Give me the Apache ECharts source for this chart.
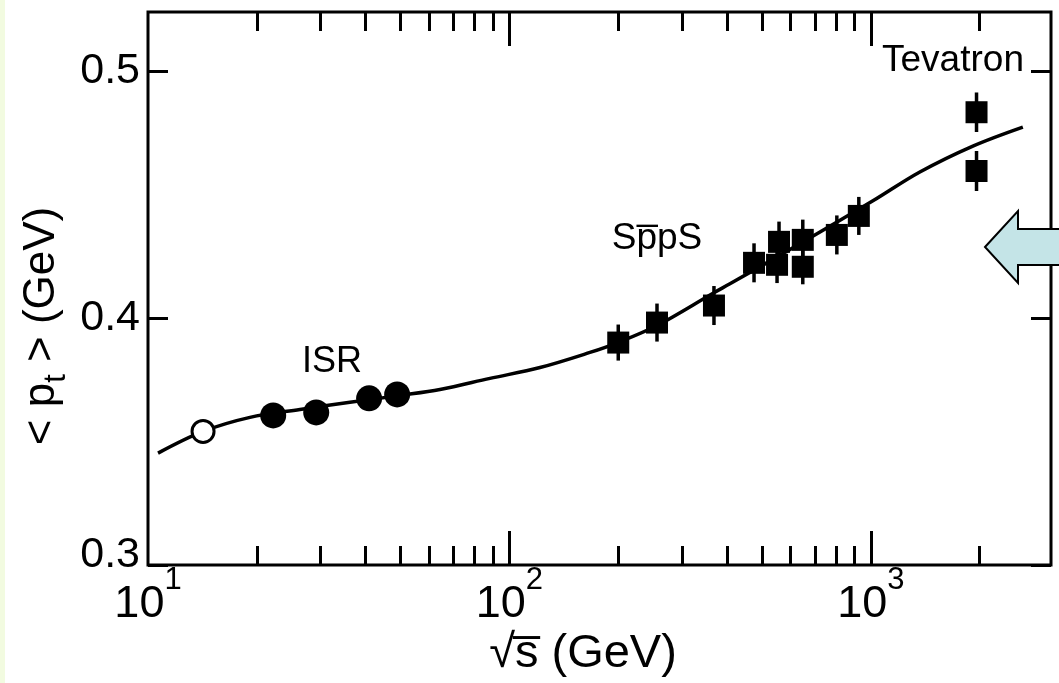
<!DOCTYPE html>
<html><head><meta charset="utf-8">
<script src="https://cdn.jsdelivr.net/npm/echarts@6/dist/echarts.min.js"></script>
<style>html,body{margin:0;padding:0;background:#ffffff;} #c{width:1059px;height:683px;}</style>
</head><body><div id="c"></div>
<script>
// ---- data ----
const xLabelValues = [10, 100, 1000];
const xMajorTicks = [100, 1000];
const xMinorTicks = [20, 30, 40, 50, 60, 70, 80, 90, 200, 300, 400, 500, 600, 700, 800, 900, 2000];
const yTicks = [0.3, 0.4, 0.5];

// open circle (lowest energy)
const openX = [14.2];
const openY = [0.3541];
// ISR (filled circles)
const isrX = [22.2, 29.2, 40.9, 48.9];
const isrY = [0.3606, 0.3618, 0.3675, 0.3691];
// SppS + Tevatron (filled squares with error bars)
const sqX = [200, 256, 368, 475, 557, 550, 648, 648, 805, 926, 1960, 1960];
const sqY = [0.3901, 0.3982, 0.4051, 0.4224, 0.4309, 0.4216, 0.4317, 0.4208, 0.4337, 0.4414, 0.4834, 0.4596];
const sqErr = [0.0073, 0.0077, 0.0079, 0.0079, 0.0082, 0.0074, 0.0082, 0.0071, 0.0079, 0.0077, 0.0080, 0.0081];
// fitted curve
const curveX = [10.66, 14.20, 19.15, 26.33, 36.21, 49.79, 64.24, 88.33, 121.5, 167.0, 199.6, 255.9, 367.9, 407.4, 636.2, 1013, 1366, 1915, 2633];
const curveY = [0.3453, 0.3541, 0.3598, 0.3630, 0.3659, 0.3687, 0.3711, 0.3756, 0.3800, 0.3861, 0.3901, 0.3970, 0.4103, 0.4139, 0.4301, 0.4475, 0.4592, 0.4697, 0.4774];

const X_MIN = 10, X_MAX = 3150, Y_MIN = 0.3, Y_MAX = 0.524;
const FONT = '"Liberation Sans", Arial, Helvetica, sans-serif';

const chart = echarts.init(document.getElementById('c'), null, {renderer: 'canvas'});

function xAxisDef(pos, ticks, len, labels) {
  return {
    type: 'log', logBase: 10, min: X_MIN, max: X_MAX, position: pos,
    axisLine: {show: false},
    splitLine: {show: false},
    axisTick: {show: true, inside: true, length: len, customValues: ticks,
               lineStyle: {color: '#000', width: 3}},
    axisLabel: labels ? {
      show: true, customValues: xLabelValues, margin: 0,
      formatter: v => '{b|10}{s|' + Math.round(Math.log10(v)) + '}',
      rich: {
        b: {fontSize: 45, fontFamily: FONT, color: '#000', lineHeight: 62, verticalAlign: 'bottom'},
        s: {fontSize: 31, fontFamily: FONT, color: '#000', lineHeight: 31, verticalAlign: 'top'}
      }
    } : {show: false}
  };
}
function yAxisDef(pos, labels) {
  return {
    type: 'value', min: Y_MIN, max: Y_MAX, position: pos,
    axisLine: {show: false},
    splitLine: {show: false},
    axisTick: {show: true, inside: true, length: 20, customValues: yTicks,
               lineStyle: {color: '#000', width: 3}},
    axisLabel: labels ? {
      show: true, customValues: yTicks, margin: 8,
      formatter: v => (Math.abs(v - 0.3) < 1e-9 ? '{lo|' : '{n|') + v.toFixed(1) + '}',
      rich: {
        n: {fontSize: 43, fontFamily: FONT, color: '#000'},
        lo: {fontSize: 43, fontFamily: FONT, color: '#000', padding: [0, 0, 20, 0]}
      }
    } : {show: false}
  };
}

const option = {
  backgroundColor: '#ffffff',
  animation: false,
  grid: {left: 148, right: 8, top: 12, bottom: 118, show: true,
         borderColor: '#000', borderWidth: 3, backgroundColor: 'transparent'},
  xAxis: [
    xAxisDef('bottom', xMajorTicks, 34, true),
    xAxisDef('bottom', xMinorTicks, 19, false),
    xAxisDef('top', xMajorTicks, 34, false),
    xAxisDef('top', xMinorTicks, 19, false)
  ],
  yAxis: [yAxisDef('left', true), yAxisDef('right', false)],
  series: [
    {
      type: 'line', xAxisIndex: 0, yAxisIndex: 0, smooth: 0.35, showSymbol: false,
      lineStyle: {color: '#000', width: 3.5}, z: 2, silent: true,
      data: curveX.map((x, i) => [x, curveY[i]])
    },
    {
      type: 'custom', xAxisIndex: 0, yAxisIndex: 0, z: 3, silent: true,
      encode: {x: 0, y: 1},
      renderItem: (params, api) => {
        const x = api.value(0), y = api.value(1), e = api.value(2);
        const p1 = api.coord([x, y + e]), p2 = api.coord([x, y - e]);
        return {type: 'line', shape: {x1: p1[0], y1: p1[1], x2: p2[0], y2: p2[1]},
                style: {stroke: '#000', lineWidth: 3.5}};
      },
      data: sqX.map((x, i) => [x, sqY[i], sqErr[i]])
    },
    {
      type: 'scatter', xAxisIndex: 0, yAxisIndex: 0, symbol: 'rect', symbolSize: 22, z: 4,
      itemStyle: {color: '#000', opacity: 1}, silent: true,
      data: sqX.map((x, i) => [x, sqY[i]])
    },
    {
      type: 'scatter', xAxisIndex: 0, yAxisIndex: 0, symbol: 'circle', symbolSize: 26, z: 4,
      itemStyle: {color: '#000', opacity: 1}, silent: true,
      data: isrX.map((x, i) => [x, isrY[i]])
    },
    {
      type: 'scatter', xAxisIndex: 0, yAxisIndex: 0, symbol: 'circle', symbolSize: 22, z: 4,
      itemStyle: {color: '#fff', borderColor: '#000', borderWidth: 3, opacity: 1}, silent: true,
      data: openX.map((x, i) => [x, openY[i]])
    }
  ],
  graphic: [
    {type: 'rect', left: 0, top: 0, shape: {width: 5, height: 683}, style: {fill: '#f2fbe0'}, z: 100},
    {type: 'text', x: 332, y: 362, z: 100,
     style: {text: 'ISR', font: '36px ' + FONT, fill: '#000', align: 'center', verticalAlign: 'middle'}},
    {type: 'text', x: 657, y: 239, z: 100,
     style: {text: 'Sp\u0305pS', font: '37px ' + FONT, fill: '#000', align: 'center', verticalAlign: 'middle'}},
    {type: 'text', x: 953, y: 61, z: 100,
     style: {text: 'Tevatron', font: '37px ' + FONT, fill: '#000', align: 'center', verticalAlign: 'middle'}},
    {type: 'text', x: 583, y: 654, z: 100,
     style: {text: '\u221As\u0305 (GeV)', font: '47px ' + FONT, fill: '#000', align: 'center', verticalAlign: 'middle'}},
    {type: 'text', x: 46, y: 326, rotation: Math.PI / 2, z: 100,
     style: {
       text: '{a|< p}{b|t}{a| > (GeV)}', align: 'center', verticalAlign: 'middle',
       rich: {
         a: {fontSize: 44, fontFamily: FONT, fill: '#000', lineHeight: 44, verticalAlign: 'top'},
         b: {fontSize: 31, fontFamily: FONT, fill: '#000', lineHeight: 52, verticalAlign: 'bottom'}
       }
     }},
    {type: 'polygon', z: 110,
     shape: {points: [[985, 247], [1018, 211], [1018, 229], [1070, 229], [1070, 265], [1018, 265], [1018, 283]]},
     style: {fill: '#c4e4e7', stroke: '#000', lineWidth: 2}}
  ]
};
chart.setOption(option);
</script>
</body></html>
